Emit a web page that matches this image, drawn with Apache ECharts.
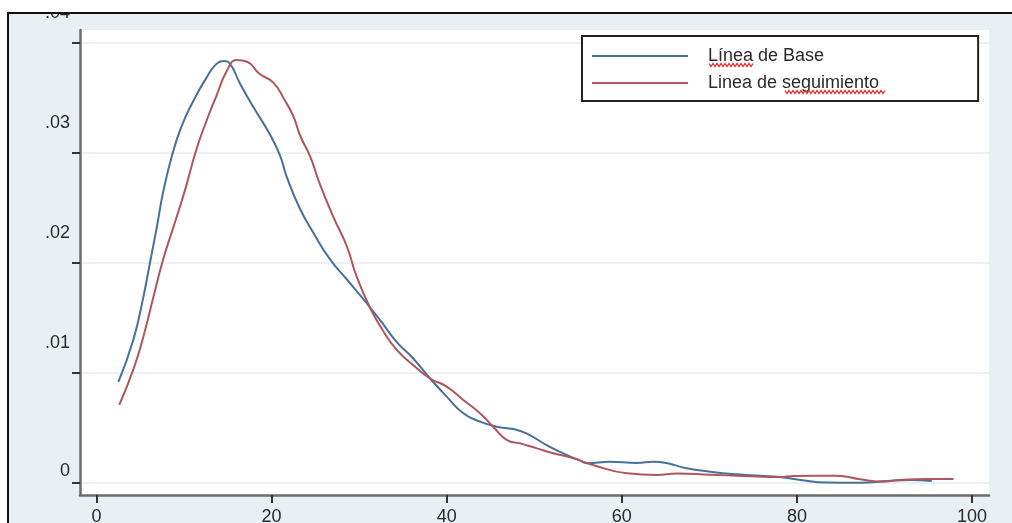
<!DOCTYPE html>
<html>
<head>
<meta charset="utf-8">
<script src="https://cdn.jsdelivr.net/npm/echarts@6/dist/echarts.min.js"></script>
<style>
  html, body { margin: 0; padding: 0; background: #ffffff; }
  #chart { width: 1012px; height: 523px; }
</style>
</head>
<body>
<div id="chart"></div>
<script>
// Kernel density estimates: [x, density]
const seriesNames = ['Línea de Base', 'Linea de seguimiento'];

const baseLine = [
  [2.5, 0.0092], [4.2, 0.0130], [5.35, 0.0169], [6.1, 0.0200], [6.9, 0.0233],
  [7.6, 0.0264], [8.6, 0.0297], [9.7, 0.0324], [11.1, 0.0348], [12.6, 0.0369],
  [13.7, 0.0381], [14.5, 0.03836], [15.25, 0.0381], [16.4, 0.0363], [17.9, 0.0342],
  [19.8, 0.0317], [21.0, 0.0297], [21.7, 0.0279], [23.2, 0.0250], [24.8, 0.0227],
  [26.7, 0.0203], [28.6, 0.0185], [30.9, 0.0163], [32.4, 0.0148], [34.3, 0.0128],
  [36.2, 0.0113], [38.1, 0.0095], [40.0, 0.00785], [41.9, 0.00634], [43.8, 0.00558],
  [45.7, 0.00512], [47.6, 0.0049], [49.1, 0.00452], [51.4, 0.00345], [53.3, 0.0027],
  [55.2, 0.00205], [56.0, 0.00179], [58.65, 0.00194], [61.7, 0.00182], [63.6, 0.00194],
  [65.1, 0.00182], [67.4, 0.00134], [70.1, 0.00103], [73.1, 0.00079], [75.8, 0.00066],
  [78.1, 0.00054], [80.4, 0.00027], [83.4, 0.00004], [87.2, 0.00003], [90.3, 0.00018],
  [92.9, 0.00027], [95.4, 0.00018]
];

const followUp = [
  [2.6, 0.0071], [4.2, 0.0103], [5.35, 0.0133], [6.5, 0.0169], [7.6, 0.0203],
  [8.8, 0.0233], [10.1, 0.0266], [11.4, 0.0303], [12.6, 0.0330], [13.7, 0.0352],
  [14.9, 0.0375], [16.0, 0.03845], [17.2, 0.0383], [18.6, 0.0372], [20.2, 0.0364],
  [21.5, 0.0348], [22.5, 0.0333], [23.3, 0.0315], [24.4, 0.0297], [25.5, 0.0272],
  [27.05, 0.0242], [28.6, 0.0215], [29.7, 0.0188], [31.2, 0.0160], [32.6, 0.0140],
  [34.3, 0.0121], [36.2, 0.0107], [38.1, 0.0095], [40.0, 0.00876], [41.9, 0.00755],
  [43.8, 0.00634], [45.3, 0.00512], [46.9, 0.0039], [48.4, 0.0036], [50.3, 0.00315],
  [52.2, 0.0027], [54.5, 0.00224], [56.7, 0.00164], [60.6, 0.00088], [64.0, 0.00073],
  [66.3, 0.00086], [70.1, 0.00075], [73.9, 0.00064], [78.1, 0.00054], [79.6, 0.00064],
  [84.5, 0.00066], [87.2, 0.00034], [89.5, 0.00012], [91.8, 0.00027], [94.8, 0.00036],
  [97.9, 0.00036]
];

const xTicks = [0, 20, 40, 60, 80, 100];
const yTicks = [0, 0.01, 0.02, 0.03, 0.04];
const yTickLabels = ['0', '.01', '.02', '.03', '.04'];

const FONT = 'Liberation Sans';
const TEXT = '#2a2a2a';

// wavy spell-check underline as a zigzag polyline
function wavy(x0, x1, y) {
  const pts = [];
  let up = true;
  for (let x = x0; x <= x1; x += 2) {
    pts.push([x, up ? y - 1.5 : y + 1.5]);
    up = !up;
  }
  return {
    type: 'polyline', z: 110,
    shape: { points: pts },
    style: { stroke: '#e0322e', lineWidth: 1.3, fill: null }
  };
}

const chart = echarts.init(document.getElementById('chart'), null, { renderer: 'canvas' });

chart.setOption({
  backgroundColor: '#e9f0f3',
  animation: false,
  textStyle: { fontFamily: FONT },
  grid: {
    left: 80, right: 23, top: 30, bottom: 28,
    outerBoundsMode: 'none',
    show: true, backgroundColor: '#ffffff', borderWidth: 0
  },
  legend: {
    orient: 'vertical',
    left: 582, top: 36,
    padding: [10, 99, 8, 10],
    itemGap: 7,
    itemWidth: 96, itemHeight: 2,
    icon: 'rect',
    backgroundColor: '#ffffff',
    borderColor: '#222222', borderWidth: 2,
    textStyle: { fontFamily: FONT, fontSize: 18, color: TEXT, lineHeight: 20, padding: [0, 0, 0, 15] },
    data: seriesNames
  },
  xAxis: {
    type: 'value',
    min: -1.885, max: 101.94,
    axisLine: { onZero: false, lineStyle: { color: '#6b6b6b', width: 2.5 } },
    axisTick: { customValues: xTicks, length: 8, lineStyle: { color: '#333', width: 2 } },
    axisLabel: { customValues: xTicks, margin: 13, fontSize: 18, color: TEXT, fontFamily: FONT },
    splitLine: { show: false }
  },
  yAxis: {
    type: 'value',
    min: -0.001091, max: 0.041182,
    axisLine: { show: true, onZero: false, lineStyle: { color: '#6b6b6b', width: 2.5 } },
    axisTick: { show: true, customValues: yTicks, length: 8, lineStyle: { color: '#333', width: 2 } },
    axisLabel: {
      customValues: yTicks, margin: 10, fontSize: 18, color: TEXT, fontFamily: FONT,
      formatter: function (v) {
        const i = yTicks.findIndex(t => Math.abs(t - v) < 1e-9);
        const s = i >= 0 ? yTickLabels[i] : '';
        return v === 0 ? '{z|' + s + '}' : '{a|' + s + '}';
      },
      rich: {
        a: { fontSize: 18, color: TEXT, fontFamily: FONT, padding: [0, 0, 60, 0] },
        z: { fontSize: 18, color: TEXT, fontFamily: FONT, padding: [0, 0, 24, 0] }
      }
    },
    splitLine: { show: true, lineStyle: { color: '#eaf1f4', width: 2 } }
  },
  series: [
    {
      name: seriesNames[0], type: 'line', data: baseLine,
      showSymbol: false, symbol: 'none', smooth: 0.5,
      color: '#45719b',
      lineStyle: { color: '#45719b', width: 2 }
    },
    {
      name: seriesNames[1], type: 'line', data: followUp,
      showSymbol: false, symbol: 'none', smooth: 0.5,
      color: '#b0555d',
      lineStyle: { color: '#b0555d', width: 2 }
    }
  ],
  graphic: [
    // white margin outside the frame, covering the overhanging top label
    { type: 'rect', z: 100, shape: { x: 0, y: 0, width: 1012, height: 12 }, style: { fill: '#ffffff' } },
    { type: 'rect', z: 100, shape: { x: 0, y: 0, width: 7, height: 523 }, style: { fill: '#ffffff' } },
    // frame edges
    { type: 'rect', z: 101, shape: { x: 7, y: 12, width: 1005, height: 2 }, style: { fill: '#111111' } },
    { type: 'rect', z: 101, shape: { x: 7, y: 12, width: 2, height: 511 }, style: { fill: '#111111' } },
    // spell-check underlines in the legend text
    wavy(709, 753, 65),
    wavy(785, 885, 92)
  ]
});
</script>
</body>
</html>
